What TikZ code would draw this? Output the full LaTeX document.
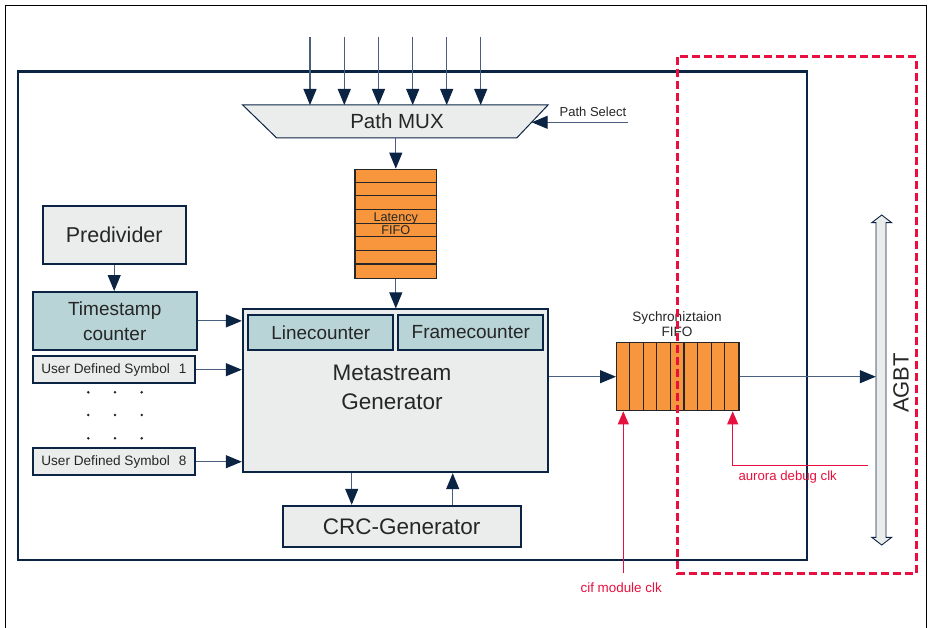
\documentclass[tikz,border=0pt]{standalone}
\usepackage{fontspec}
\setmainfont{Liberation Sans}
\usetikzlibrary{arrows.meta,calc}
\definecolor{navy}{HTML}{0C2444}
\definecolor{linec}{HTML}{4A5F7E}
\definecolor{greyfill}{HTML}{EBEDEC}
\definecolor{tealfill}{HTML}{B8D4D6}
\definecolor{fifoorange}{HTML}{F7963C}
\definecolor{txt}{HTML}{262626}
\definecolor{redc}{HTML}{E8103E}
\begin{document}
\begin{tikzpicture}[x=1pt,y=-1pt,
  box/.style={draw=navy, line width=1.8pt, fill=greyfill, inner sep=0pt, text=txt, align=center},
  tbox/.style={box, fill=tealfill},
  fifo/.style={draw=black!85, line width=1.3pt, fill=fifoorange, inner sep=0pt, text=txt, align=center},
  conn/.style={draw=linec, line width=1.1pt, -{Triangle[length=16pt,width=13pt,color=navy]}},
  redarrow/.style={draw=redc, line width=0.8pt, -{Triangle[length=13pt,width=11pt,color=redc]}},
  lbl/.style={inner sep=0pt, text=txt, align=center},
  redlbl/.style={inner sep=0pt, text=redc, font=\fontsize{13.4}{16}\selectfont}
]
\useasboundingbox (0,0) rectangle (928,628);
\fill[white] (0,0) rectangle (928,628);
% page border
\draw[black, line width=1pt] (5,628) -- (5,6) -- (926.5,6) -- (926.5,628);
% main box
\draw[navy, line width=2.4pt] (18,71.7) rectangle (806.7,560);

% Path MUX
\draw[navy, line width=1pt, fill=greyfill] (242.7,105) -- (548,105) -- (516.7,138) -- (276.7,138) -- cycle;
\node[lbl, font=\fontsize{20.5}{24}\selectfont] (mux) at (397,121.5) {Path MUX};
\coordinate (muxtop) at (397,105);
\coordinate (muxbot) at (395.8,138);
\coordinate (muxright) at (531.7,122.3);
\foreach \i/\x in {1/310,2/344.3,3/378.5,4/412.7,5/446.7,6/480.7}{
  \coordinate (in\i) at (\x,36.7);
  \draw[conn] (in\i) -- (in\i |- muxtop);
}
\coordinate (ps) at (628,122.3);
\draw[conn] (ps) -- (muxright);
\node[lbl, anchor=west, font=\fontsize{13}{16}\selectfont] (pstext) at (559.5,112) {Path Select};

% Latency FIFO
\node[fifo, minimum width=81.7pt, minimum height=109pt] (lat) at (395.8,223.8) {};
\foreach \i in {1,...,7}{
  \draw[black!85, line width=1.2pt] ($(lat.north west)+(0,\i*13.625)$) -- ($(lat.north east)+(0,\i*13.625)$);
}
\node[lbl, font=\fontsize{12.7}{13.4}\selectfont] (lattext) at (395.8,223.4) {Latency\\FIFO};
\draw[conn] (muxbot) -- (lat.north);

% left column
\node[box, minimum width=143pt, minimum height=58pt, font=\fontsize{21.5}{26}\selectfont] (pre) at (114.2,235.2) {Predivider};
\node[tbox, minimum width=164pt, minimum height=58pt, font=\fontsize{19}{25}\selectfont] (ts) at (114.7,320.9) {Timestamp\\counter};
\node[box, minimum width=162pt, minimum height=27pt, font=\fontsize{13.6}{16}\selectfont] (uds1) at (113.9,369.7) {User Defined Symbol\hspace{9pt}1};
\node[box, minimum width=162pt, minimum height=27pt, font=\fontsize{13.6}{16}\selectfont] (uds8) at (113.9,461.7) {User Defined Symbol\hspace{9pt}8};
\foreach \x in {88.3,115,141.7}{
  \foreach \y in {392.3,415,438.3}{
    \fill[black!85] (\x,\y) circle (1.4pt);
  }
}
\draw[conn] (pre.south) -- (pre.south |- ts.north);

% Metastream generator
\node[box, minimum width=305.6pt, minimum height=163pt] (ms) at (395.5,390.8) {};
\node[tbox, minimum width=145pt, minimum height=35pt, font=\fontsize{18.9}{22}\selectfont] (lc) at (320.8,332.5) {Linecounter};
\node[tbox, minimum width=145pt, minimum height=35pt, font=\fontsize{19}{22}\selectfont] (fc) at (470.8,332.5) {Framecounter};
\node[lbl, font=\fontsize{22.5}{29.3}\selectfont] (mstext) at (392,387.5) {Metastream\\Generator};
\draw[conn] (lat.south) -- (lat.south |- ms.north);
\draw[conn] (ts.east) -- (ts.east -| ms.west);
\draw[conn] (uds1.east) -- (uds1.east -| ms.west);
\draw[conn] (uds8.east) -- (uds8.east -| ms.west);

% CRC
\node[box, minimum width=238pt, minimum height=41.6pt, font=\fontsize{22.5}{26}\selectfont] (crc) at (401.7,526.5) {CRC-Generator};
\draw[conn] ([xshift=-43.8pt]ms.south) -- ([xshift=-43.8pt]ms.south |- crc.north);
\draw[conn] ([xshift=57.2pt]ms.south |- crc.north) -- ([xshift=57.2pt]ms.south);

% Synchronization FIFO
\node[fifo, minimum width=122.3pt, minimum height=68pt] (sync) at (677.8,376.7) {};
\foreach \i in {1,...,8}{
  \draw[black!85, line width=1.2pt] ($(sync.north west)+(\i*13.589,0)$) -- ($(sync.south west)+(\i*13.589,0)$);
}
\node[lbl, font=\fontsize{13.6}{15.3}\selectfont] (synctext) at (677,324.3) {Sychroniztaion\\FIFO};
\draw[conn] (ms.east |- sync.west) -- (sync.west);

% AGBT
\node[inner sep=0pt, minimum width=10pt, minimum height=314.6pt] (agbt) at (881,380) {};
\draw[navy, line width=0.9pt, fill=greyfill]
  (881.7,215) -- (891.7,222.7) -- (886,222.7) -- (886,537.3) -- (891.7,537.3) -- (881.7,545)
  -- (871.7,537.3) -- (876,537.3) -- (876,222.7) -- (871.7,222.7) -- cycle;
\node[lbl, rotate=90, font=\fontsize{22}{26}\selectfont] (agbttext) at (901,383) {AGBT};
\draw[conn] (sync.east) -- (sync.east -| agbt.west);

% clocks
\coordinate (cif) at (623.3,573.3);
\draw[redarrow] (cif) -- (cif |- sync.south);
\node[redlbl] (ciftext) at (621.2,588) {cif module clk};
\coordinate (aur) at (868.3,465);
\coordinate (aurbend) at (732.7,465);
\draw[redarrow] (aur) -- (aurbend) -- (aurbend |- sync.south);
\node[redlbl, font=\fontsize{13.2}{16}\selectfont] (aurtext) at (787.7,476.7) {aurora debug clk};

% red dashed region
\draw[redc, line width=3pt, dash pattern=on 8pt off 4pt] (677.3,56.7) rectangle (916,573.3);
\end{tikzpicture}
\end{document}
